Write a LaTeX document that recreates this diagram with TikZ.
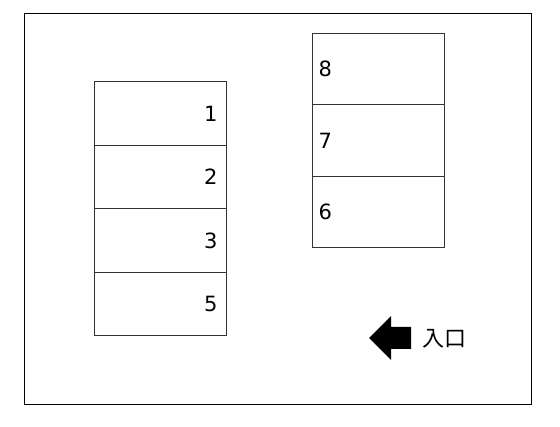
\documentclass[tikz,border=0pt]{standalone}
\usepackage{fontspec}
\setmainfont{DejaVu Sans}
\newfontfamily\cjk{Noto Sans CJK JP}
\begin{document}
\begin{tikzpicture}[x=1pt,y=-1pt,
  slot/.style={draw=black!80,line width=1pt},
  num/.style={font=\fontsize{21}{24}\selectfont},
  frame/.style={draw=black,line width=1pt}]
\useasboundingbox (0,0) rectangle (560,427);
\draw[frame] (24,14) rectangle (531,405);
% left column
\node[slot,minimum width=132,minimum height=64,anchor=north west,inner sep=0] (s1) at (94,81) {};
\node[slot,minimum width=132,minimum height=63,anchor=north west,inner sep=0] (s2) at (94,145) {};
\node[slot,minimum width=132,minimum height=64,anchor=north west,inner sep=0] (s3) at (94,208) {};
\node[slot,minimum width=132,minimum height=63,anchor=north west,inner sep=0] (s5) at (94,272) {};
\node[num,anchor=east] at ([xshift=-6]s1.east) {1};
\node[num,anchor=east] at ([xshift=-6]s2.east) {2};
\node[num,anchor=east] at ([xshift=-6]s3.east) {3};
\node[num,anchor=east] at ([xshift=-6]s5.east) {5};
% right column
\node[slot,minimum width=132,minimum height=71,anchor=north west,inner sep=0] (s8) at (312,33) {};
\node[slot,minimum width=132,minimum height=72,anchor=north west,inner sep=0] (s7) at (312,104) {};
\node[slot,minimum width=132,minimum height=71,anchor=north west,inner sep=0] (s6) at (312,176) {};
\node[num,anchor=west] at ([xshift=3]s8.west) {8};
\node[num,anchor=west] at ([xshift=3]s7.west) {7};
\node[num,anchor=west] at ([xshift=3]s6.west) {6};
% entrance arrow
\fill[black] (369,338) -- (391,316) -- (391,327) -- (411,327) -- (411,349) -- (391,349) -- (391,360) -- cycle;
\node[anchor=west,inner sep=0,font=\cjk\fontsize{22}{24}\selectfont] (ent) at (422,339) {入口};
\end{tikzpicture}
\end{document}
